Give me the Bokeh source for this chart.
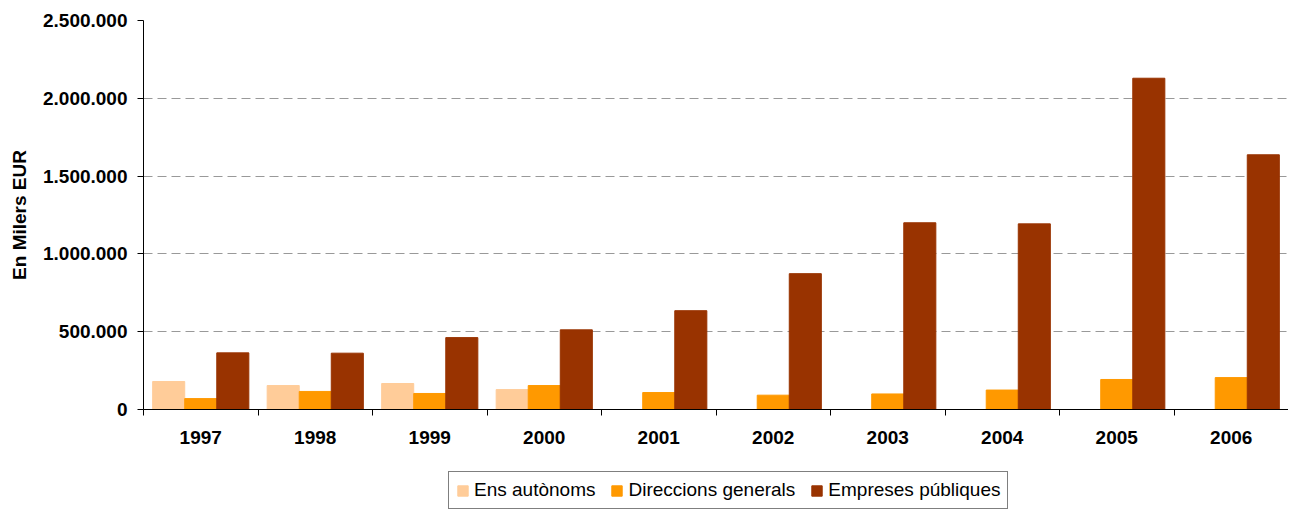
from bokeh.plotting import figure
from bokeh.layouts import column
from bokeh.models import (ColumnDataSource, FixedTicker, CustomJSTickFormatter, Legend, LegendItem, Range1d)
from bokeh.transform import dodge
from bokeh.embed import file_html
from bokeh.resources import INLINE

years = ["1997", "1998", "1999", "2000", "2001", "2002", "2003", "2004", "2005", "2006"]
ens_autonoms = [180000, 154000, 167000, 128000, 0, 0, 0, 0, 0, 0]
direccions_generals = [70000, 116000, 103000, 154000, 109000, 92000, 100000, 125000, 193000, 205000]
empreses_publiques = [364000, 362000, 462000, 512000, 635000, 873000, 1200000, 1193000, 2129000, 1637000]
series_names = ["Ens autònoms", "Direccions generals", "Empreses públiques"]
colors = ["#FFCC99", "#FF9900", "#993300"]

idx = list(range(len(years)))
src = ColumnDataSource(dict(x=idx, a=ens_autonoms, d=direccions_generals, e=empreses_publiques))

FONT = "Liberation Sans"

p = figure(width=1288, height=470, output_backend="svg", toolbar_location=None,
           x_range=Range1d(-0.5, len(years) - 0.5), y_range=Range1d(0, 2500000),
           min_border_left=143, min_border_top=20, min_border_right=0, min_border_bottom=61)
p.outline_line_color = None
p.background_fill_color = "white"

w = 0.28
for off, col, c in zip([-w, 0, w], ["a", "d", "e"], colors):
    p.vbar(x=dodge("x", off, range=p.x_range), top=col, width=w, source=src,
           fill_color=c, line_color=c)

# x axis
p.xaxis.ticker = FixedTicker(ticks=idx, minor_ticks=[i - 0.5 for i in idx] + [len(years) - 0.5])
p.xaxis.major_label_overrides = {i: y for i, y in zip(idx, years)}
p.xaxis.major_tick_out = 0
p.xaxis.major_tick_in = 0
p.xaxis.minor_tick_out = 6
p.xaxis.minor_tick_in = 0
p.xaxis.minor_tick_line_color = "black"
p.xaxis.axis_line_color = "black"
p.xaxis.major_label_text_font = FONT
p.xaxis.major_label_text_font_style = "bold"
p.xaxis.major_label_text_font_size = "19px"
p.xaxis.major_label_text_color = "black"
p.xaxis.major_label_standoff = 15
p.xgrid.grid_line_color = None

# y axis
p.yaxis.ticker = FixedTicker(ticks=[0, 500000, 1000000, 1500000, 2000000, 2500000])
p.yaxis.formatter = CustomJSTickFormatter(code="""
return tick.toFixed(0).replace(/\\B(?=(\\d{3})+(?!\\d))/g, ".");
""")
p.yaxis.minor_tick_line_color = None
p.yaxis.major_tick_out = 6
p.yaxis.major_tick_in = 0
p.yaxis.axis_line_color = "black"
p.yaxis.major_tick_line_color = "black"
p.yaxis.major_label_text_font = FONT
p.yaxis.major_label_text_font_style = "bold"
p.yaxis.major_label_text_font_size = "19px"
p.yaxis.major_label_text_color = "black"
p.yaxis.major_label_standoff = 10
p.yaxis.axis_label = "En Milers EUR"
p.yaxis.axis_label_text_font = FONT
p.yaxis.axis_label_text_font_style = "bold"
p.yaxis.axis_label_text_font_size = "19px"
p.yaxis.axis_label_text_color = "black"
p.yaxis.axis_label_standoff = 10
p.ygrid.grid_line_color = "#999999"
p.ygrid.grid_line_dash = "9 5"

# legend in a separate strip (frames are aligned with the main chart)
lg = figure(width=1288, height=39, output_backend="svg", toolbar_location=None,
            x_range=Range1d(0, 1), y_range=Range1d(0, 1),
            x_axis_type=None, y_axis_type=None,
            min_border_left=143, min_border_right=0, min_border_top=0, min_border_bottom=0)
lg.grid.grid_line_color = None
lg.outline_line_color = None
items = []
for name, c in zip(series_names, colors):
    r = lg.vbar(x=[-10], top=[-10], bottom=[-11], width=0.1, fill_color=c, line_color=c)
    items.append(LegendItem(label=name, renderers=[r]))
legend = Legend(items=items, orientation="horizontal", location=(305, 0),
                label_text_font=FONT, label_text_font_size="19px", label_text_color="black",
                glyph_width=13, glyph_height=13, label_standoff=5, spacing=15,
                padding=7, margin=0, border_line_color="black", border_line_width=1,
                label_height=19, background_fill_color="white")
lg.add_layout(legend, "center")

layout = column(p, lg, spacing=0)
open("out.html", "w").write(file_html(layout, INLINE))
